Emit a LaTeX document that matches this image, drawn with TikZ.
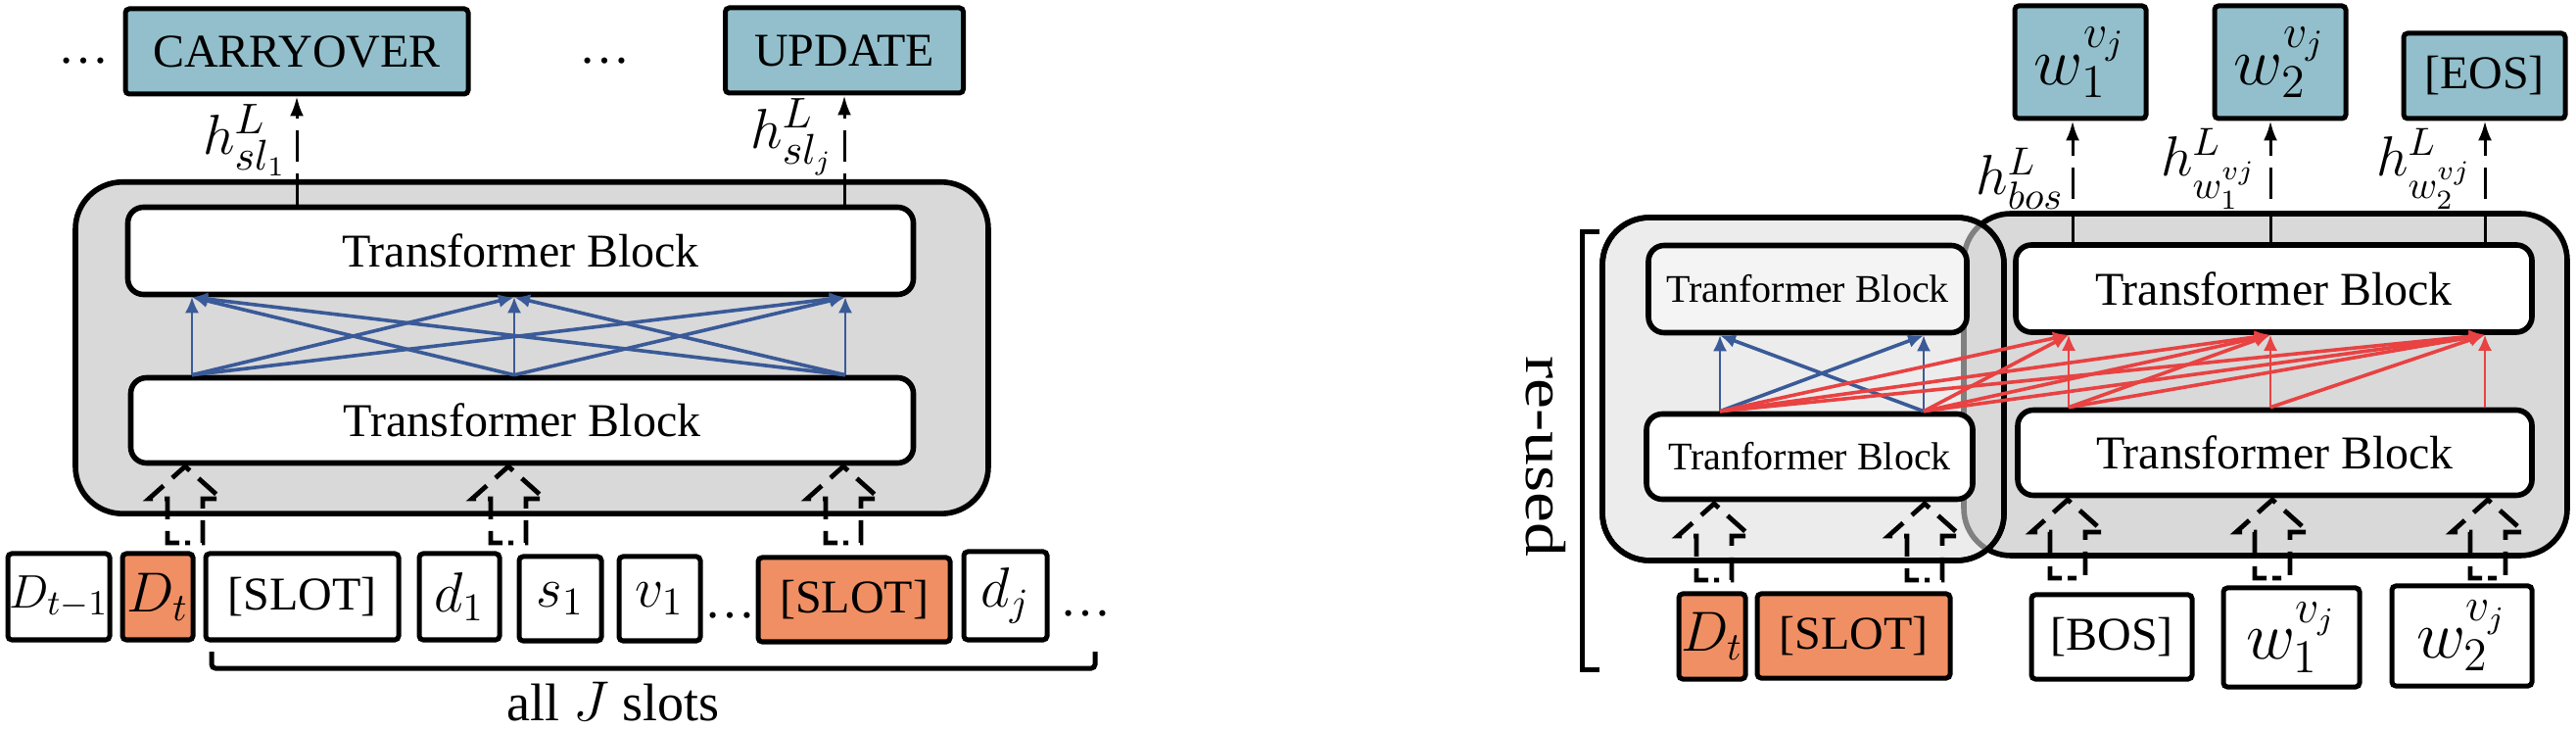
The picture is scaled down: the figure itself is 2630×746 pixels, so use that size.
\documentclass[tikz,border=0pt]{standalone}
\usepackage{fontspec}
\setmainfont{Liberation Serif}
\usetikzlibrary{arrows.meta}
\definecolor{tealbox}{RGB}{146,191,203}
\definecolor{orgbox}{RGB}{240,143,100}
\definecolor{gD}{RGB}{217,217,217}
\definecolor{gE}{RGB}{236,236,236}
\definecolor{gF}{RGB}{244,244,244}
\definecolor{attblue}{RGB}{58,90,152}
\definecolor{attred}{RGB}{232,66,66}
\newcommand\fsz[1]{\fontsize{#1}{#1}\selectfont}
\newcommand\blockarr[3]{\draw[barrow] (#1,#3) -- (#1-18,#3) -- (#1-18,#2+33) -- (#1-37,#2+33) -- (#1,#2) -- (#1+37,#2+33) -- (#1+18,#2+33) -- (#1+18,#3) -- cycle;}
\begin{document}
\begin{tikzpicture}[x=0.25pt,y=-0.25pt,
  box/.style={draw, line width=1.25pt, rounded corners=1pt, inner sep=0pt, font=\fsz{12}},
  outbox/.style={box, fill=tealbox},
  obox/.style={box, fill=orgbox},
  wbox/.style={box, fill=white},
  mbox/.style={font=\fsz{14}},
  tblock/.style={draw, fill=white, line width=1.4pt, rounded corners=4pt, inner sep=0pt, font=\fsz{12}},
  bigbox/.style={line width=1.4pt, rounded corners=12pt},
  attb/.style={attblue, line width=0.9pt, -{Latex[length=4pt,width=3.5pt]}},
  attbs/.style={attb, line width=0.5pt},
  attr/.style={attred, line width=0.9pt, -{Latex[length=4pt,width=3.5pt]}},
  attrs/.style={attr, line width=0.5pt},
  outarr/.style={line width=0.75pt, dash pattern=on 8pt off 3pt, -{Latex[length=5pt,width=3.5pt]}},
  barrow/.style={line width=1.2pt, dash pattern=on 6pt off 3pt, dash phase=7.5pt},
  lab/.style={inner sep=0pt, font=\fsz{15}},
  rlab/.style={inner sep=0pt, font=\fsz{14}},
  dotsn/.style={inner sep=0pt, font=\fsz{13}},
]
\useasboundingbox (0,0) rectangle (2630,746);
\fill[white] (0,0) rectangle (2630,746);

% ---------------- left panel ----------------
\node[dotsn] (dA) at (85,62) {\ldots};
\node[dotsn] (dB) at (617,62) {\ldots};
\node[outbox, minimum width=87.5pt, minimum height=21.75pt] (carry) at (303,52.5) {CARRYOVER};
\node[outbox, minimum width=60.75pt, minimum height=21.75pt] (upd) at (862,51.5) {UPDATE};

\node[bigbox, draw, fill=gD, minimum width=233pt, minimum height=84.6pt] (encL) at (543,355) {};
\node[tblock, minimum width=200.5pt, minimum height=22.25pt] (tb1) at (531.5,256) {Transformer Block};
\node[tblock, minimum width=199.75pt, minimum height=21.75pt] (tb2) at (533,429) {Transformer Block};

\coordinate (x1) at (196,0);
\coordinate (x2) at (525,0);
\coordinate (x3) at (863,0);
\foreach \i in {1,2,3}{\foreach \j in {1,2,3}{
  \ifnum\i=\j
    \draw[attbs] (tb2.north -| x\i) -- (tb1.south -| x\j);
  \else
    \draw[attb] (tb2.north -| x\i) -- (tb1.south -| x\j);
  \fi}}

\draw[outarr] (tb1.north -| carry.south) -- (carry.south);
\draw[outarr] (tb1.north -| upd.south) -- (upd.south);
\node[lab, anchor=east] (hl1) at (294,143) {$h^L_{sl_1}$};
\node[lab, anchor=east] (hl2) at (852,140) {$h^L_{sl_j}$};

\blockarr{189}{476}{554}
\blockarr{519}{476}{554}
\blockarr{861}{476}{554}

\node[wbox, font=\fsz{13}, minimum width=26pt, minimum height=22pt] (dtm) at (60,609) {$D_{t-1}$};
\node[obox, mbox, minimum width=18pt, minimum height=22pt] (dt) at (161,609) {$D_t$};
\node[wbox, minimum width=49.25pt, minimum height=22pt] (sl1) at (308.5,609) {[SLOT]};
\node[wbox, mbox, minimum width=20.5pt, minimum height=22pt] (d1) at (469,609) {$d_1$};
\node[wbox, mbox, minimum width=21pt, minimum height=21.5pt] (s1) at (572,611) {$s_1$};
\node[wbox, mbox, minimum width=20.75pt, minimum height=21.5pt] (v1) at (673.5,611) {$v_1$};
\node[dotsn] (dC) at (745,628) {\ldots};
\node[obox, minimum width=49pt, minimum height=21.5pt] (sl2) at (872,612) {[SLOT]};
\node[wbox, mbox, minimum width=21.25pt, minimum height=22.5pt] (dj) at (1026.5,608) {$d_j$};
\node[dotsn] (dD) at (1108,626) {\ldots};

\coordinate (brA) at (216,665);
\coordinate (brB) at (1118,665);
\draw[line width=1.25pt, rounded corners=1pt] (brA) -- (216,682) -- (1118,682) -- (brB);
\node[inner sep=0pt, font=\fsz{13.5}] (allj) at (626,716) {all $J$ slots};

% ---------------- right panel ----------------
\node[outbox, font=\fsz{18}, minimum width=33.5pt, minimum height=28.75pt] (w1o) at (2124,63.5) {$w_1^{v_j}$};
\node[outbox, font=\fsz{18}, minimum width=33.5pt, minimum height=28.75pt] (w2o) at (2328,63.5) {$w_2^{v_j}$};
\node[outbox, minimum width=41.25pt, minimum height=21.75pt] (eos) at (2536.5,77.5) {[EOS]};

\filldraw[bigbox, fill=gD] (2005,218) rectangle (2621,567);
\filldraw[bigbox, fill=gE] (1636,222) rectangle (2046,572);
\begin{scope}
  \clip[rounded corners=12pt] (1636,222) rectangle (2046,572);
  \filldraw[bigbox, fill=gD, draw=black!50] (2005,218) rectangle (2621,567);
\end{scope}
\draw[bigbox] (1636,222) rectangle (2046,572);

\node[tblock, fill=gF, font=\fsz{10}, minimum width=81.25pt, minimum height=22.25pt] (tbA) at (1845.5,295) {Tranformer Block};
\node[tblock, minimum width=131.75pt, minimum height=22.25pt] (tbB) at (2321.5,294.5) {Transformer Block};
\node[tblock, font=\fsz{10}, minimum width=83.25pt, minimum height=21.75pt] (tbC) at (1847.5,466) {Tranformer Block};
\node[tblock, minimum width=131.25pt, minimum height=21.75pt] (tbD) at (2322.5,462) {Transformer Block};

\coordinate (y1) at (1756,0);
\coordinate (y2) at (1964,0);
\coordinate (y3) at (2112,0);
\coordinate (y4) at (2318,0);
\coordinate (y5) at (2537,0);
\draw[attbs] (tbC.north -| y1) -- (tbA.south -| y1);
\draw[attbs] (tbC.north -| y2) -- (tbA.south -| y2);
\draw[attb] (tbC.north -| y1) -- (tbA.south -| y2);
\draw[attb] (tbC.north -| y2) -- (tbA.south -| y1);
\foreach \t in {3,4,5}{
  \draw[attr] (tbC.north -| y1) -- (tbB.south -| y\t);
  \draw[attr] (tbC.north -| y2) -- (tbB.south -| y\t);
  \foreach \s in {3,...,\t}{
    \ifnum\s=\t
      \draw[attrs] (tbD.north -| y\s) -- (tbB.south -| y\t);
    \else
      \draw[attr] (tbD.north -| y\s) -- (tbB.south -| y\t);
    \fi}}

\coordinate (o1) at (2116,0);
\coordinate (o2) at (2318,0);
\coordinate (o3) at (2537,0);
\draw[outarr] (tbB.north -| o1) -- (w1o.south -| o1);
\draw[outarr] (tbB.north -| o2) -- (w2o.south -| o2);
\draw[outarr] (tbB.north -| o3) -- (eos.south -| o3);
\node[rlab, anchor=east] (hb) at (2108,182) {$h^L_{bos}$};
\node[rlab, anchor=east] (hw1) at (2305,172) {$h^L_{w_1^{vj}}$};
\node[rlab, anchor=east] (hw2) at (2525,172) {$h^L_{w_2^{vj}}$};

\blockarr{1750}{514}{592}
\blockarr{1965}{514}{592}
\blockarr{2111}{510}{590}
\blockarr{2320}{510}{590}
\blockarr{2540}{510}{590}

\node[obox, mbox, minimum width=17pt, minimum height=21.75pt] (dt2) at (1748,649.5) {$D_t$};
\node[obox, minimum width=49.25pt, minimum height=21.5pt] (sl3) at (1892.5,649) {[SLOT]};
\node[wbox, minimum width=41pt, minimum height=21.5pt] (bos) at (2156,650) {[BOS]};
\node[wbox, font=\fsz{17}, minimum width=34.75pt, minimum height=25.25pt] (w1i) at (2339.5,650.5) {$w_1^{v_j}$};
\node[wbox, font=\fsz{17}, minimum width=35.75pt, minimum height=25.5pt] (w2i) at (2513.5,649) {$w_2^{v_j}$};

\node[rotate=-90, inner sep=0pt, font=\fsz{14.5}] (ru) at (1578,466) {\scalebox{1.2}[1]{re-used}};
\coordinate (rbA) at (1633,237);
\coordinate (rbB) at (1633,683);
\draw[line width=1.25pt] (rbA) -- (1615,237) -- (1615,683) -- (rbB);
\end{tikzpicture}
\end{document}
